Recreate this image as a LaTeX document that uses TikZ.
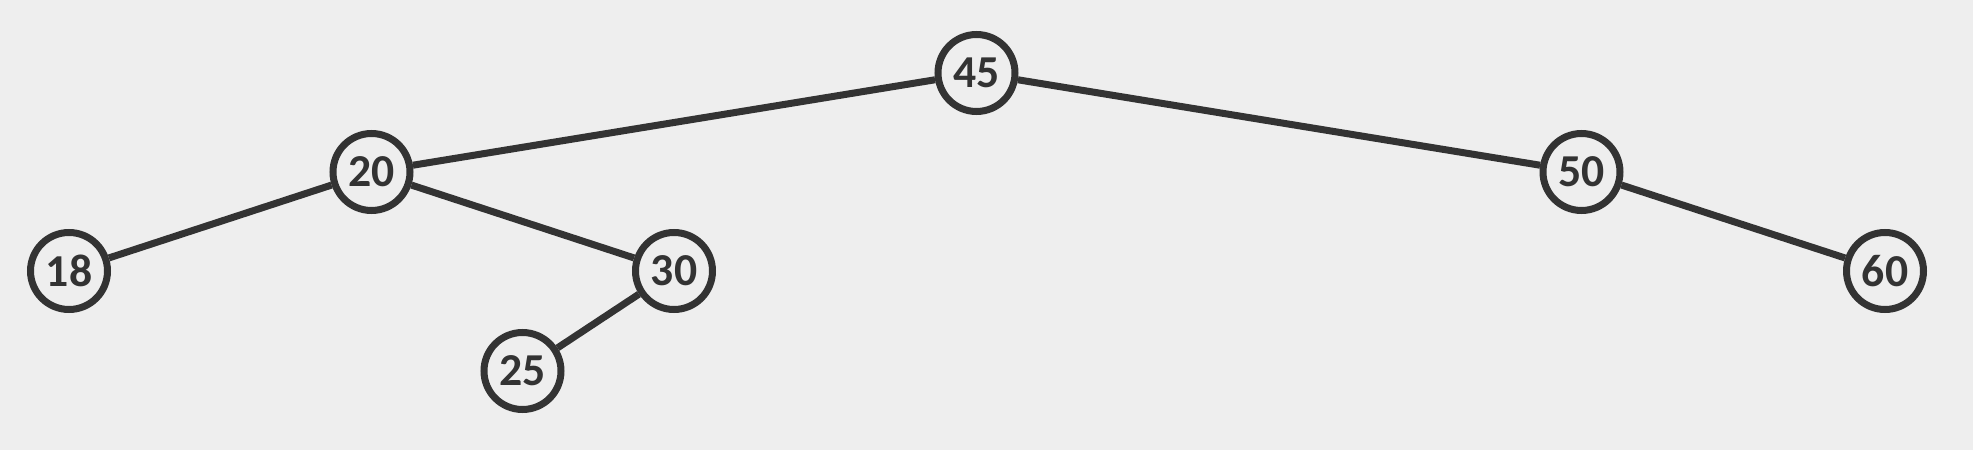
\documentclass[tikz,border=0pt]{standalone}
\usepackage{fontspec}
\setmainfont{Carlito}
\usepackage{xcolor}
\usetikzlibrary{positioning}
\definecolor{inkgray}{HTML}{333333}
\definecolor{backgray}{HTML}{EEEEEE}
\tikzset{
	treenode/.style={draw=inkgray, line width=0.07cm, circle, fill=backgray, inner sep=0pt,
		minimum size=0.77cm, text=inkgray, font=\fontsize{13}{15}\selectfont\bfseries},
	treeedge/.style={draw=inkgray, line width=0.07cm}
}
\begin{document}
\begin{tikzpicture}
                        % Background and bounding box
                        \fill [backgray] (0.000000,0.000000) rectangle (19.730000,4.500000);
                        \useasboundingbox (0.000000,0.000000) rectangle (19.730000,4.500000);

                        % Marking node 45
                        \node [treenode] (n45) at (9.765000,3.770000) {45};%

                        % Marking node 20
                        \node [treenode] (n20) at (3.715000,2.780000) {20};%

                        % Marking node 50
                        \node [treenode] (n50) at (15.815000,2.780000) {50};%

                        % Marking node 18
                        \node [treenode] (n18) at (0.690000,1.790000) {18};%

                        % Marking node 30
                        \node [treenode] (n30) at (6.740000,1.790000) {30};%

                        % Marking node 60
                        \node [treenode] (n60) at (18.850000,1.790000) {60};%

                        % Marking node 25
                        \node [treenode] (n25) at (5.225000,0.790000) {25};%

                        % Drawing edges
                        \draw [treeedge] (n45) -- (n20);%
                        \draw [treeedge] (n45) -- (n50);%
                        \draw [treeedge] (n20) -- (n18);%
                        \draw [treeedge] (n20) -- (n30);%
                        \draw [treeedge] (n30) -- (n25);%
                        \draw [treeedge] (n50) -- (n60);%
\end{tikzpicture}
\end{document}
